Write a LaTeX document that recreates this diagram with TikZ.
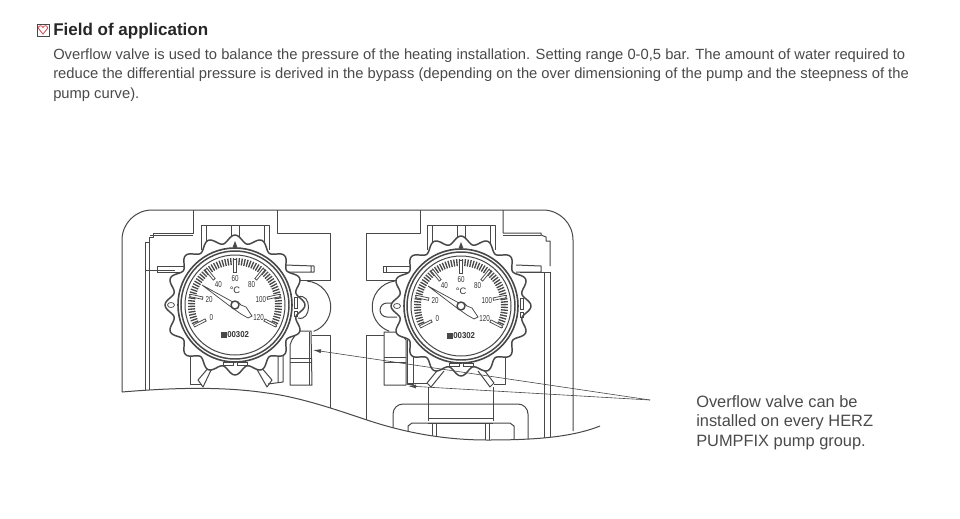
\documentclass[tikz,border=0pt]{standalone}
\usepackage{fontspec}
\setmainfont{Liberation Sans}
\usetikzlibrary{arrows.meta}
\definecolor{inkline}{HTML}{484848}
\definecolor{textgray}{HTML}{4A4A4A}
\definecolor{heartred}{HTML}{D2434F}
\tikzset{every picture/.append style={x=0.75pt,y=-0.75pt}}
\tikzset{part/.style={draw=inkline,line width=0.75pt,line join=round}}
\tikzset{thinpart/.style={draw=inkline,line width=0.55pt}}
\tikzset{leader/.style={draw=inkline,line width=0.45pt,-{Latex[length=6pt,width=3pt]}}}
\tikzset{dial/.style={inner sep=0pt,text=black!80,font=\fontsize{6.5}{6.5}\selectfont}}
\tikzset{para/.style={inner sep=0pt,anchor=base west,text=textgray,font=\fontsize{11.06}{15}\selectfont}}
% one thermometer with its knob, centred at (#1,#2), #3 names its nodes
\newcommand{\gaugeat}[3]{
  \begin{scope}[shift={(#1,#2)}]
    \filldraw[part,fill=white,line width=1.1pt] plot[domain=0:360,samples=241,smooth]
      (\x:{66+4*cos(16*(\x-90))});
    \filldraw[part,fill=white,line width=1.2pt] (0,0) circle[radius=57];
    \draw[part,line width=1.1pt] (0,0) circle[radius=54];
    \draw[part] (0,0) circle[radius=50];
    \fill[inkline] (-2.5,-57.5)--(2.5,-57.5)--(0,-64)--cycle;
    \foreach \a in {-27,-23.4,...,207}
      \draw[inkline,line width=1pt] ({-\a}:40)--({-\a}:47);
    \foreach \a/\v in {207/0,168/20,129/40,90/60,51/80,12/100,-27/120}{
      \filldraw[thinpart,fill=white,rotate=\a] (33,-1.2)rectangle(46,1.2);
      \node[dial] (#3v\v) at ({-\a}:{26.5}) {\scalebox{0.72}[1]{\v}};
    }
    \node[dial,font=\fontsize{7}{7}\selectfont] (#3unit) at (0,-15) {°C};
    \filldraw[thinpart,fill=white] (-33,-20)--(-3,-3.5)--(3,-3)--(6,0)--(11,2)--(17,11)--(13,13)--(6,9)--(-4,2)--cycle;
    \filldraw[part,fill=white,line width=1.1pt] (0,0) circle[radius=4];
    \fill[inkline] (-14,27) rectangle (-8,33);
    \node[dial,font=\bfseries\fontsize{6.4}{6.4}\selectfont,anchor=west] (#3code) at (-8,30) {\scalebox{0.92}[1]{00302}};
    \filldraw[thinpart,fill=white] (-12,57.5) rectangle (-2,60);
    \filldraw[thinpart,fill=white] (2,57.5) rectangle (12,60);
    \filldraw[thinpart,fill=white] (-64,0) circle[x radius=3.5,y radius=2.5];
    \draw[thinpart] (59,-8) rectangle (62,3) (59,6) rectangle (62,11);
  \end{scope}
}

\begin{document}
\begin{tikzpicture}
  \useasboundingbox[fill=white] (0,0) rectangle (960,518);

  % header
  \draw[thinpart] (37,24) rectangle (49,36);
  \draw[draw=heartred,line width=0.6pt] (43,34)--(38.5,28.5) .. controls (38,25) and (42,25) .. (43,27.5) .. controls (44,25) and (48,25) .. (47.5,28.5)--cycle;
  \node[inner sep=0pt,anchor=base west,font=\bfseries\fontsize{12.75}{14}\selectfont,text=black!85] (title) at (53,35.5) {Field of application};
  \node[para] (body1) at (53,59) {Overflow valve is used to balance the pressure of the heating installation. Setting range 0-0,5 bar. The amount of water required to};
  \node[para] (body2) at (53,78) {reduce the differential pressure is derived in the bypass (depending on the over dimensioning of the pump and the steepness of the};
  \node[para] (body3) at (53,98) {pump curve).};

  % everything of the housing stops at the torn edge
  \begin{scope}
    \clip (100,200) -- (620,200) -- (620,426) -- (600,426) .. controls (570,438) and (530,440) .. (487,440) .. controls (440,440) and (400,431) .. (367,420) .. controls (340,411) and (300,397) .. (267,393) .. controls (220,386) and (170,388) .. (122,392) -- (100,392) -- cycle;

    % left unit
    \draw[part] (277,210)--(277,233)--(330,233)--(330,280)--(300,280);
    \draw[part] (193,210)--(193,233)--(153,233)--(153,237)--(149,237)--(149,242)--(145,242)--(145,395);
    \draw[part] (149,242)--(149,395) (145,270)--(175,270);
    \draw[part] (150,235)--(193,235);
    \draw[part] (201,250)--(201,225)--(269,225)--(269,250);
    \draw[part] (206,226)--(206,250) (231,226)--(231,240) (239,226)--(239,240) (264,226)--(264,250);
    \draw[part] (157,272)--(157,266)--(185,266) (157,272)--(185,272);
    \draw[part] (285,265)--(314,266)--(314,272)--(285,272) (311,266)--(311,272);
    \draw[part] (307,281) arc[start angle=-85,end angle=70,radius=26];
    \draw[part] (298,297) .. controls (312,292) and (312,322) .. (298,318);
    \draw[part] (312,335)--(330,335)--(330,410);
    \draw[part] (190,355)--(190,384)--(202,384);
    \draw[part] (268,384)--(283,382)--(283,355) (278,355)--(278,383);
    \draw[part] (213,366)--(203,387)--(198,380)--(210,366);
    \draw[part] (255,366)--(267,387)--(272,380)--(260,366);
    \filldraw[part,fill=white] (292,340)--(298,331)--(311,331)--(312,385)--(290,385)--(290,345)--cycle;
    \draw[part] (290,358)--(312,358) (290,362)--(312,362);
    \draw[part] (309,332)--(309,385);

    % right unit
    \draw[part] (420,210)--(420,233)--(366,233)--(366,280)--(398,280);
    \draw[part] (503,210)--(503,233)--(541,233)--(541,235)--(546,237)--(546,241)--(550,241)--(550,266);
    \draw[part] (503,235)--(541,235);
    \draw[part] (544,272)--(544,440) (550,272)--(550,440) (520,272)--(550,272);
    \draw[part] (427,250)--(427,225)--(495,225)--(495,250);
    \draw[part] (432,226)--(432,250) (457,226)--(457,240) (465,226)--(465,240) (490,226)--(490,250);
    \draw[part] (383,272)--(383,266)--(410,266) (383,272)--(410,272) (386,266)--(386,272);
    \draw[part] (516,265)--(541,266)--(541,272) (516,272)--(541,272);
    \draw[part] (395,281) arc[start angle=-97,end angle=-250,radius=26];
    \draw[part] (397,303)--(387,303) arc[start angle=-90,end angle=-270,radius=7]--(397,317);
    \draw[part] (384,335)--(366,335)--(366,425);
    \filldraw[part,fill=white] (384,332)--(400,332)--(406,340)--(406,385)--(384,385)--cycle;
    \draw[part] (384,357)--(406,357) (384,362)--(406,362);
    \draw[part] (407,340)--(407,384)--(413,384)--(413,345) (407,383)--(428,383);
    \draw[part] (505,355)--(505,384)--(494,384);
    \draw[part] (428,387)--(428,421) (493,387)--(493,421);
    \draw[part] (428,418)--(493,418) (428,423)--(493,423);
    \draw[part] (441,366)--(427,383)--(431,387)--(444,371);
    \draw[part] (481,366)--(494,383)--(490,387)--(478,371);
    \draw[part] (393,440)--(393,414) arc[start angle=180,end angle=270,radius=10]--(518,404) arc[start angle=-90,end angle=0,radius=10]--(528,440);
    \draw[part] (408,440)--(408,426)--(412,423)--(510,423)--(514,426)--(514,440);
    \draw[part] (432,424)--(432,440) (436,424)--(436,440) (485,424)--(485,440) (489,424)--(489,440);
  \end{scope}

  % housing outline and torn edge
  \draw[part] (122,392)--(122,240) arc[start angle=180,end angle=270,radius=30]--(543,210) arc[start angle=-90,end angle=0,radius=30]--(573,431);
  \draw[part] (122,392) .. controls (170,388) and (220,386) .. (267,393) .. controls (300,397) and (340,411) .. (367,420) .. controls (400,431) and (440,440) .. (487,440) .. controls (530,440) and (570,438) .. (600,426);

  \gaugeat{235}{305}{l}
  \gaugeat{461}{306}{r}

  % leaders
  \coordinate (leaderstart) at (650,400);
  \coordinate (tipleft) at (313,350);
  \coordinate (tipright) at (408,386);
  \draw[leader] (leaderstart)--(tipleft);
  \draw[leader] (leaderstart)--(tipright);

  \node[inner sep=0pt,anchor=base west,align=left,text=textgray,font=\fontsize{12.3}{14.6}\selectfont] (note) at (696,446) {Overflow valve can be\\installed on every HERZ\\PUMPFIX pump group.};
\end{tikzpicture}
\end{document}
